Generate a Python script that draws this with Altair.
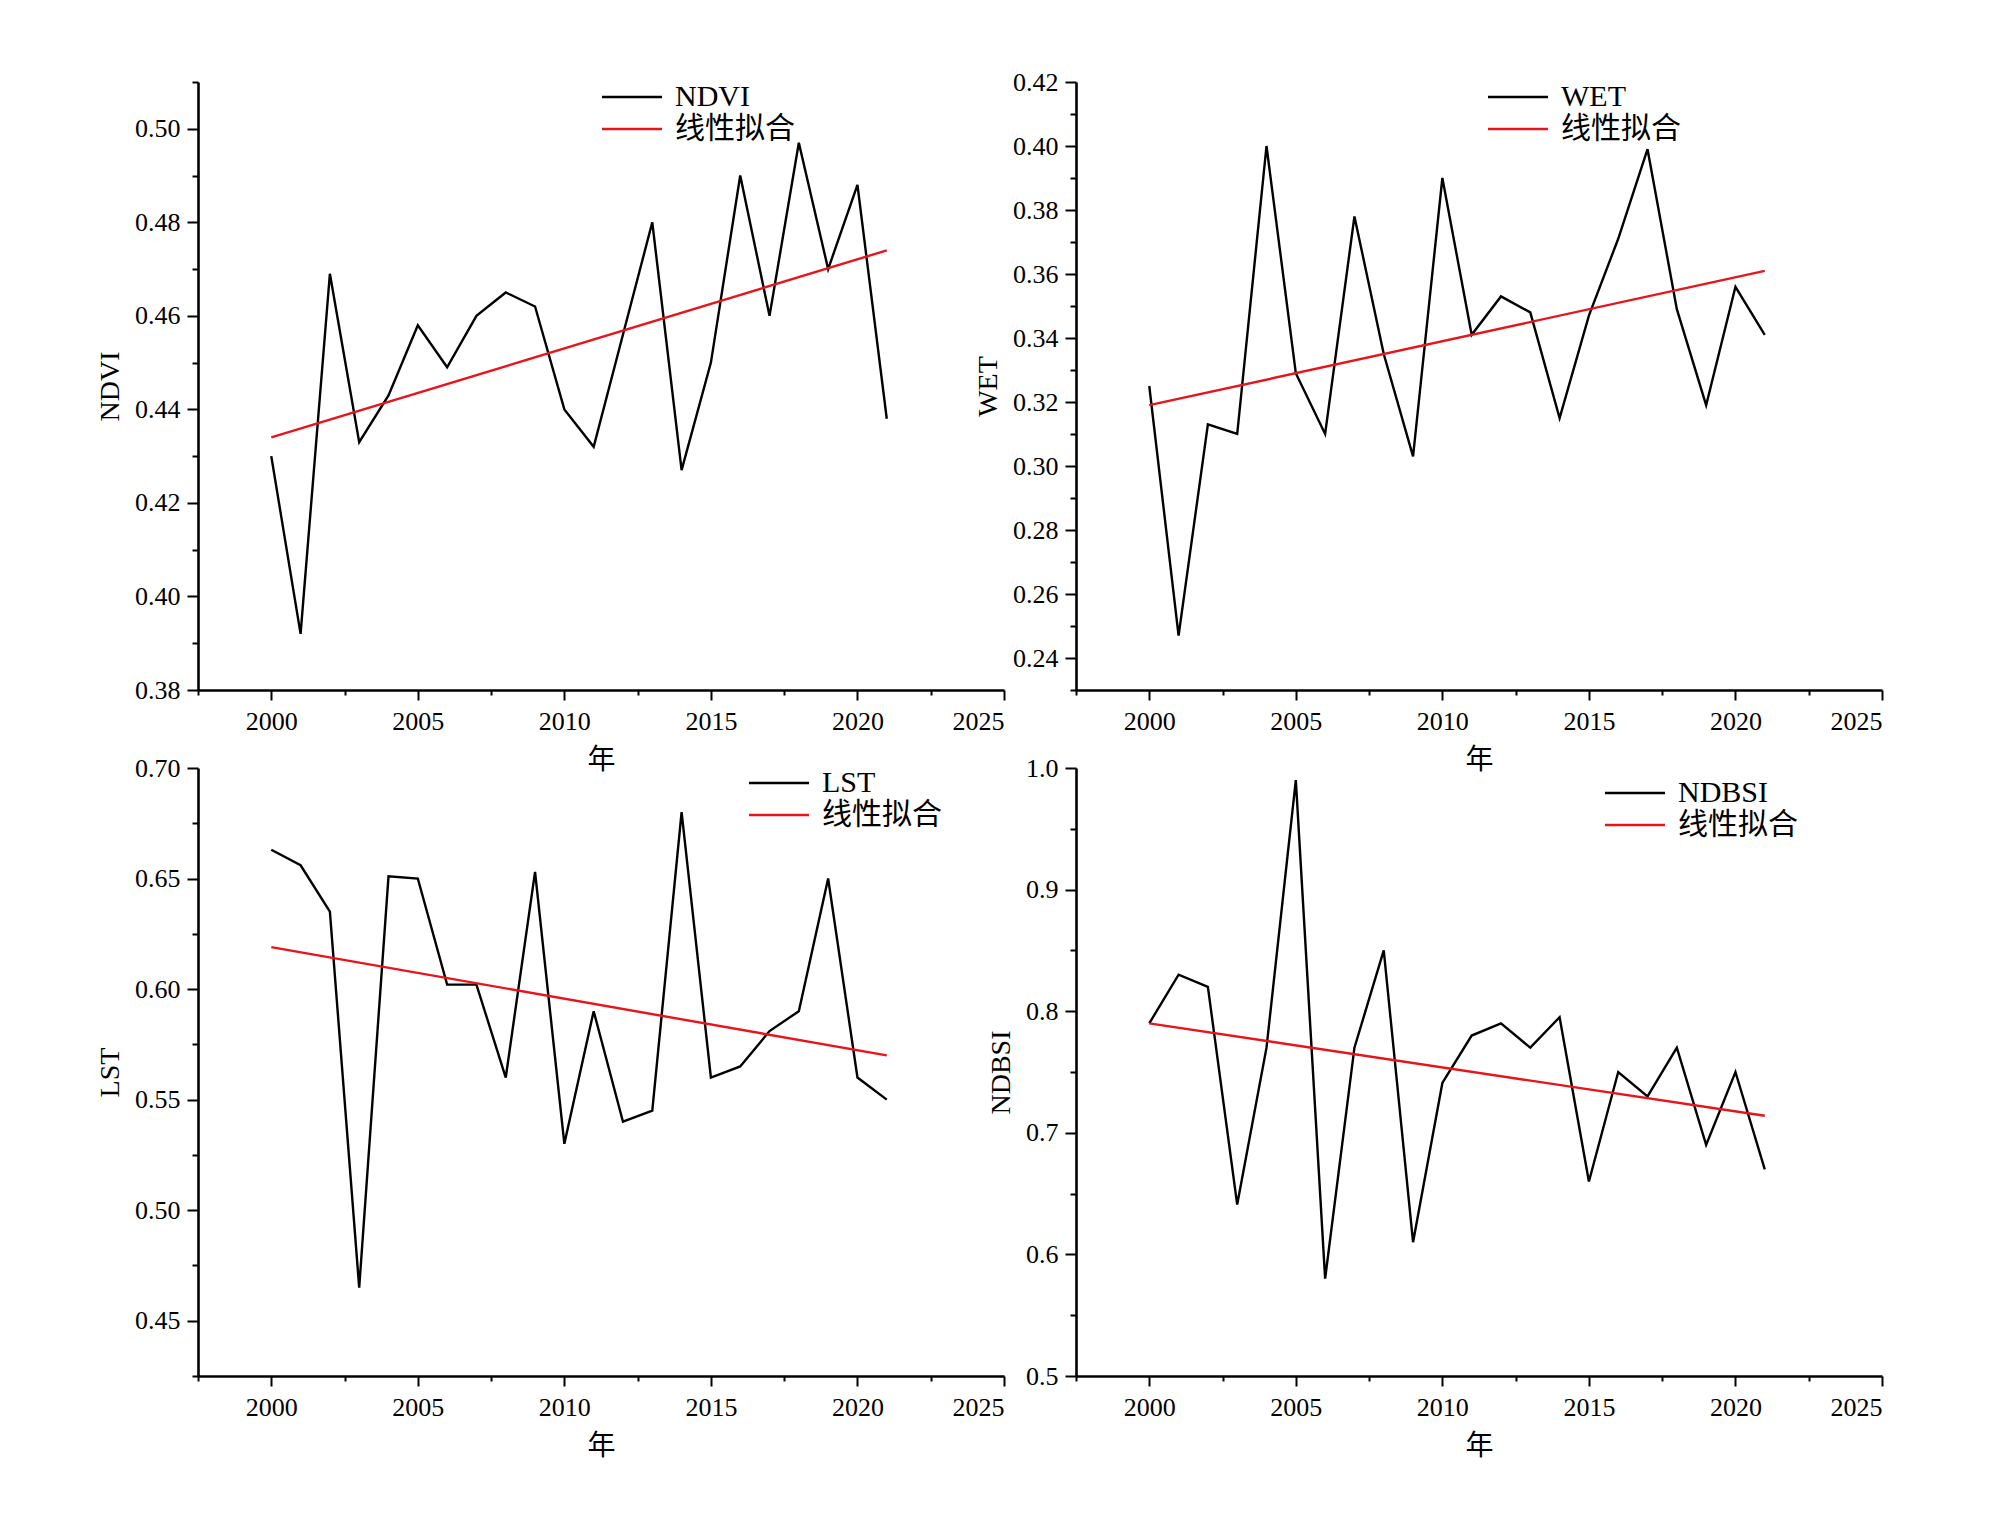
import altair as alt
import pandas as pd

years = list(range(2000, 2022))
ndvi = [0.430, 0.392, 0.469, 0.433, 0.443, 0.458, 0.449, 0.460, 0.465, 0.462, 0.440,
        0.432, 0.456, 0.480, 0.427, 0.450, 0.490, 0.460, 0.497, 0.470, 0.488, 0.438]
wet = [0.325, 0.247, 0.313, 0.310, 0.400, 0.329, 0.310, 0.378, 0.335, 0.303, 0.390,
       0.341, 0.353, 0.348, 0.315, 0.347, 0.371, 0.399, 0.349, 0.319, 0.356, 0.341]
lst = [0.663, 0.656, 0.635, 0.465, 0.651, 0.650, 0.602, 0.602, 0.560, 0.653, 0.530,
       0.590, 0.540, 0.545, 0.680, 0.560, 0.565, 0.581, 0.590, 0.650, 0.560, 0.550]
ndbsi = [0.790, 0.830, 0.820, 0.641, 0.770, 0.990, 0.580, 0.770, 0.850, 0.610, 0.741,
         0.780, 0.790, 0.770, 0.795, 0.660, 0.750, 0.730, 0.770, 0.690, 0.750, 0.670]

fit_years = [2000, 2021]
ndvi_fit = [0.434, 0.474]
wet_fit = [0.319, 0.361]
lst_fit = [0.619, 0.570]
ndbsi_fit = [0.790, 0.714]

fit_name = "线性拟合"
x_major = [2000, 2005, 2010, 2015, 2020, 2025]
x_minor = [1997.5, 2002.5, 2007.5, 2012.5, 2017.5, 2022.5]

ndvi_major = [0.38, 0.40, 0.42, 0.44, 0.46, 0.48, 0.50]
ndvi_minor = [0.39, 0.41, 0.43, 0.45, 0.47, 0.49, 0.51]
wet_major = [0.24, 0.26, 0.28, 0.30, 0.32, 0.34, 0.36, 0.38, 0.40, 0.42]
wet_minor = [0.23, 0.25, 0.27, 0.29, 0.31, 0.33, 0.35, 0.37, 0.39, 0.41]
lst_major = [0.45, 0.50, 0.55, 0.60, 0.65, 0.70]
lst_minor = [0.425, 0.475, 0.525, 0.575, 0.625, 0.675]
ndbsi_major = [0.5, 0.6, 0.7, 0.8, 0.9, 1.0]
ndbsi_minor = [0.55, 0.65, 0.75, 0.85, 0.95]

FONT = "Liberation Serif, Noto Sans CJK SC"
W, H = 806, 608


def arr(v):
    return "[" + ",".join(repr(a) for a in v) + "]"


def panel(name, values, fit, ydomain, ymajor, yminor, fmt, lx, ly):
    df = pd.DataFrame({
        "year": years + fit_years,
        "value": values + fit,
        "series": [name] * len(years) + [fit_name] * len(fit_years),
    })
    xaxis = alt.Axis(
        values=sorted(x_major + x_minor),
        labelExpr=f"indexof({arr(x_major)}, datum.value) >= 0 ? format(datum.value, 'd') : ''",
        tickSize={"condition": {"test": f"indexof({arr(x_major)}, datum.value) < 0", "value": 5}, "value": 10},
        title="年", grid=False, labelPadding=8, titlePadding=12,
    )
    yaxis = alt.Axis(
        values=sorted(ymajor + yminor),
        labelExpr=f"indexof({arr(ymajor)}, datum.value) >= 0 ? format(datum.value, '{fmt}') : ''",
        tickSize={"condition": {"test": f"indexof({arr(ymajor)}, datum.value) < 0", "value": 6}, "value": 11},
        title=name, grid=False, labelPadding=7, titlePadding=10,
    )
    return alt.Chart(df).mark_line(strokeWidth=2.4, clip=False).encode(
        x=alt.X("year:Q", scale=alt.Scale(domain=[1997.5, 2025], nice=False, zero=False), axis=xaxis),
        y=alt.Y("value:Q", scale=alt.Scale(domain=ydomain, nice=False, zero=False), axis=yaxis),
        color=alt.Color(
            "series:N",
            scale=alt.Scale(domain=[name, fit_name], range=["#000000", "#e8141c"]),
            legend=alt.Legend(
                orient="none", legendX=lx, legendY=ly, title=None,
                symbolType="M-3,0H3", symbolSize=400, symbolStrokeWidth=2.4,
                labelFont=FONT, labelFontSize=30, labelOffset=28, rowPadding=2,
                padding=0,
            ),
        ),
    ).properties(width=W, height=H)


p1 = panel("NDVI", ndvi, ndvi_fit, [0.38, 0.51], ndvi_major, ndvi_minor, ".2f", 419, 0)
p2 = panel("WET", wet, wet_fit, [0.23, 0.42], wet_major, wet_minor, ".2f", 427, 0)
p3 = panel("LST", lst, lst_fit, [0.425, 0.70], lst_major, lst_minor, ".2f", 566, 0)
p4 = panel("NDBSI", ndbsi, ndbsi_fit, [0.5, 1.0], ndbsi_major, ndbsi_minor, ".1f", 544, 10)

chart = alt.concat(
    p1, p2, p3, p4, columns=2, spacing={"row": 78, "column": 72}, bounds="flush"
).resolve_scale(
    color="independent", x="independent", y="independent"
).resolve_legend(color="independent").properties(
    padding={"left": 88, "top": 61, "right": 5, "bottom": 5},
    background="white",
).configure_view(stroke=None).configure_axis(
    labelFont=FONT, labelFontSize=26, labelColor="#000000",
    titleFont=FONT, titleFontSize=28, titleFontWeight="normal", titleColor="#000000",
    domainColor="#000000", domainWidth=2.6, tickColor="#000000", tickWidth=2,
)

chart.save("out.html", embed_options={"renderer": "svg", "actions": False})
